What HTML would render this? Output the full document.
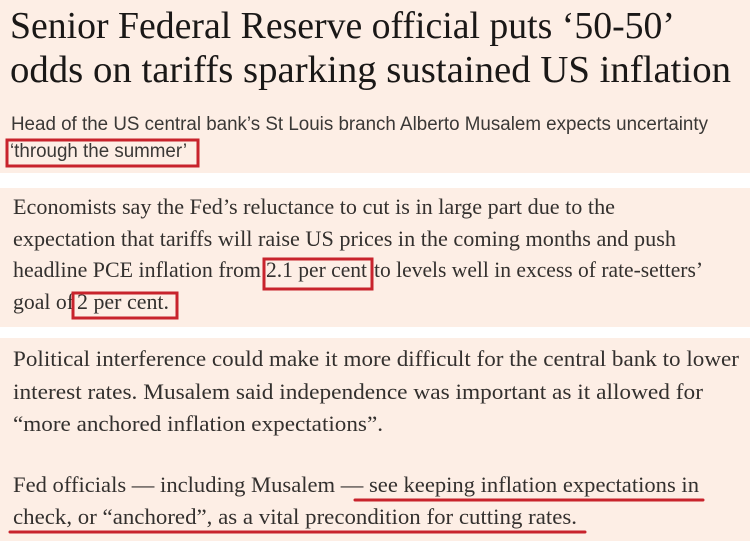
<!DOCTYPE html>
<html>
<head>
<meta charset="utf-8">
<style>
  html, body { margin: 0; padding: 0; background: #ffffff; }
  svg { display: block; }
  .h { font-family: "Liberation Serif", serif; font-size: 38px; fill: #1a1817; }
  .s { font-family: "Liberation Sans", sans-serif; font-size: 19px; fill: #3a3836; }
  .b { font-family: "Liberation Serif", serif; font-size: 22px; fill: #33302e; }
</style>
</head>
<body>
<svg width="750" height="541" viewBox="0 0 750 541" xmlns="http://www.w3.org/2000/svg">
  <!-- panels -->
  <rect x="0" y="0" width="750" height="173" fill="#fdeee5"/>
  <rect x="0" y="188" width="750" height="139" fill="#fdeee5"/>
  <rect x="0" y="338" width="750" height="203" fill="#fdeee5"/>

  <!-- headline -->
  <text class="h" x="10" y="38" textLength="665" lengthAdjust="spacingAndGlyphs">Senior Federal Reserve official puts ‘50-50’</text>
  <text class="h" x="10" y="82" textLength="721" lengthAdjust="spacingAndGlyphs">odds on tariffs sparking sustained US inflation</text>

  <!-- subtitle -->
  <text class="s" x="11" y="130" textLength="697" lengthAdjust="spacingAndGlyphs">Head of the US central bank’s St Louis branch Alberto Musalem expects uncertainty</text>
  <text class="s" x="10" y="157" textLength="177" lengthAdjust="spacingAndGlyphs">‘through the summer’</text>
  <rect x="7" y="140" width="191" height="26" fill="none" stroke="#c8232c" stroke-width="3"/>

  <!-- paragraph 2 -->
  <text class="b" x="13" y="214" textLength="602" lengthAdjust="spacingAndGlyphs">Economists say the Fed’s reluctance to cut is in large part due to the</text>
  <text class="b" x="13" y="246" textLength="663" lengthAdjust="spacingAndGlyphs">expectation that tariffs will raise US prices in the coming months and push</text>
  <text class="b" x="13" y="277" textLength="248" lengthAdjust="spacingAndGlyphs">headline PCE inflation from</text>
  <text class="b" x="266" y="277" textLength="101" lengthAdjust="spacingAndGlyphs">2.1 per cent</text>
  <text class="b" x="374" y="277" textLength="329" lengthAdjust="spacingAndGlyphs">to levels well in excess of rate-setters’</text>
  <text class="b" x="13" y="309" textLength="61" lengthAdjust="spacingAndGlyphs">goal of</text>
  <text class="b" x="77" y="309" textLength="92" lengthAdjust="spacingAndGlyphs">2 per cent.</text>
  <rect x="264" y="259" width="108" height="30" fill="none" stroke="#c8232c" stroke-width="3"/>
  <rect x="73" y="293" width="104" height="25" fill="none" stroke="#c8232c" stroke-width="3"/>

  <!-- paragraph 3 -->
  <text class="b" x="13" y="366" textLength="726" lengthAdjust="spacingAndGlyphs">Political interference could make it more difficult for the central bank to lower</text>
  <text class="b" x="13" y="399" textLength="690" lengthAdjust="spacingAndGlyphs">interest rates. Musalem said independence was important as it allowed for</text>
  <text class="b" x="13" y="431" textLength="370" lengthAdjust="spacingAndGlyphs">“more anchored inflation expectations”.</text>

  <text class="b" x="13" y="492" textLength="686" lengthAdjust="spacingAndGlyphs">Fed officials — including Musalem — see keeping inflation expectations in</text>
  <line x1="355" y1="500" x2="703" y2="500" stroke="#c8232c" stroke-width="3" stroke-linecap="round"/>
  <text class="b" x="13" y="524" textLength="564" lengthAdjust="spacingAndGlyphs">check, or “anchored”, as a vital precondition for cutting rates.</text>
  <line x1="10" y1="532" x2="585" y2="532" stroke="#c8232c" stroke-width="3" stroke-linecap="round"/>
</svg>
</body>
</html>
